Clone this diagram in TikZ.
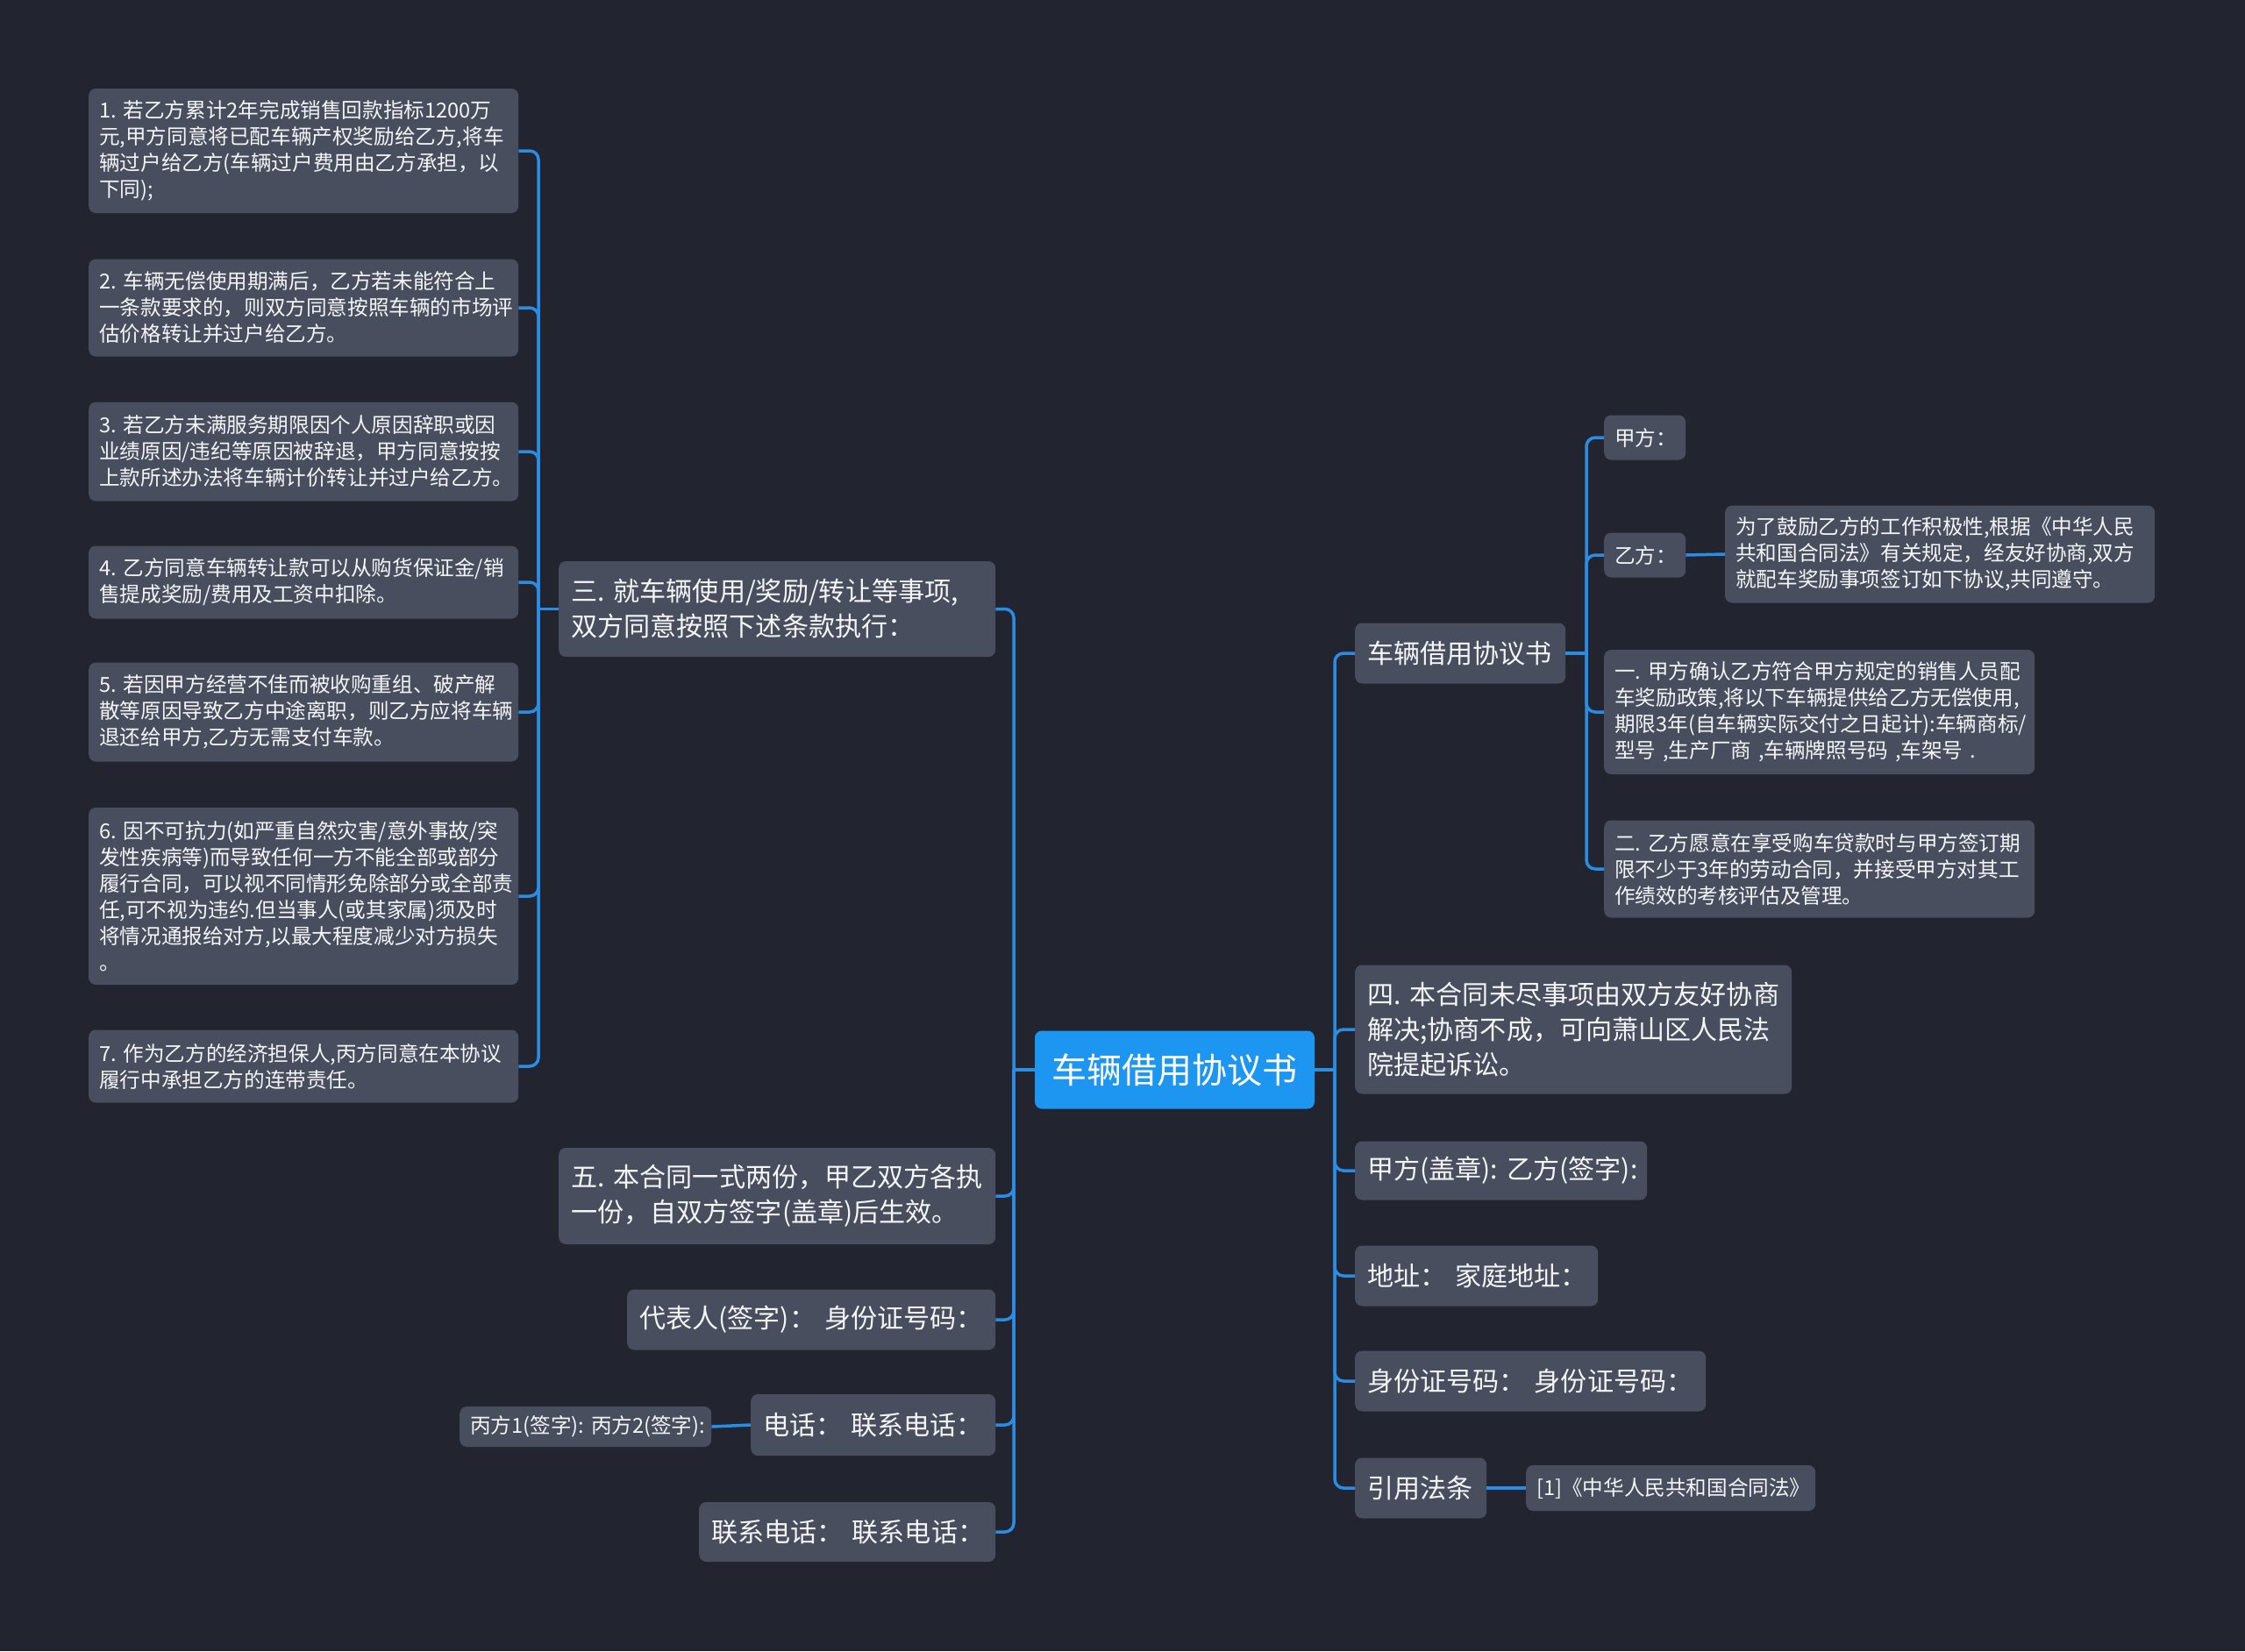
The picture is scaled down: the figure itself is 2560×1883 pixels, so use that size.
\documentclass[tikz,border=0pt]{standalone}
\usepackage{fontspec}
\setmainfont{Noto Sans CJK SC}
\definecolor{bgc}{HTML}{22252F}
\definecolor{boxc}{HTML}{484E5E}
\definecolor{linec}{HTML}{2A8CE2}
\definecolor{centc}{HTML}{1C96F0}
\definecolor{txtc}{HTML}{F4F5F7}
\begin{document}
\begin{tikzpicture}[x=1pt,y=-1pt,
  bx/.style={rectangle, rounded corners=8pt, fill=boxc, text=txtc, inner xsep=12pt, inner ysep=0pt, align=left, anchor=west},
  small/.style={bx, font=\fontsize{23.6}{30}\selectfont},
  big/.style={bx, inner xsep=14pt, font=\fontsize{30.1}{40}\selectfont},
  conn/.style={draw=linec, line width=3.5pt, rounded corners=10pt}]
\fill[bgc] (0,0) rectangle (2560,1883);
\useasboundingbox (0,0) rectangle (2560,1883);

% center
\node[fill=centc, rounded corners=8pt, text=white, font=\fontsize{40}{48}\selectfont, minimum width=319pt, minimum height=89pt, inner sep=0pt] (c) at (1339.5,1220) {车辆借用协议书};

% left column
\node[small, text width=466pt, minimum height=142pt] (l1) at (101,172) {1.~若乙方累计2年完成销售回款指标1200万\\元,甲方同意将已配车辆产权奖励给乙方,将车\\辆过户给乙方(车辆过户费用由乙方承担，以\\下同);};
\node[small, text width=466pt, minimum height=111pt] (l2) at (101,351) {2.~车辆无偿使用期满后，乙方若未能符合上\\一条款要求的，则双方同意按照车辆的市场评\\估价格转让并过户给乙方。};
\node[small, text width=466pt, minimum height=113pt] (l3) at (101,515) {3.~若乙方未满服务期限因个人原因辞职或因\\业绩原因/违纪等原因被辞退，甲方同意按按\\上款所述办法将车辆计价转让并过户给乙方。};
\node[small, text width=466pt, minimum height=83pt] (l4) at (101,664) {4.~乙方同意车辆转让款可以从购货保证金/销\\售提成奖励/费用及工资中扣除。};
\node[small, text width=466pt, minimum height=113pt] (l5) at (101,812) {5.~若因甲方经营不佳而被收购重组、破产解\\散等原因导致乙方中途离职，则乙方应将车辆\\退还给甲方,乙方无需支付车款。};
\node[small, text width=466pt, minimum height=202pt] (l6) at (101,1022) {6.~因不可抗力(如严重自然灾害/意外事故/突\\发性疾病等)而导致任何一方不能全部或部分\\履行合同，可以视不同情形免除部分或全部责\\任,可不视为违约.但当事人(或其家属)须及时\\将情况通报给对方,以最大程度减少对方损失\\。};
\node[small, text width=466pt, minimum height=83pt] (l7) at (101,1216) {7.~作为乙方的经济担保人,丙方同意在本协议\\履行中承担乙方的连带责任。};

% center-left column
\node[big, text width=470pt, minimum height=109pt] (s3) at (637,694.5) {三.~就车辆使用/奖励/转让等事项,\\双方同意按照下述条款执行：};
\node[big, text width=470pt, minimum height=110pt] (s5) at (637,1364) {五.~本合同一式两份，甲乙双方各执\\一份，自双方签字(盖章)后生效。};
\node[big, text width=392pt, minimum height=69pt] (rep) at (715,1505) {代表人(签字)：~身份证号码：};
\node[big, text width=251pt, minimum height=70pt] (tel) at (856,1625) {电话：~联系电话：};
\node[small, text width=263pt, minimum height=46pt] (bing) at (524,1627) {丙方1(签字):~丙方2(签字):};
\node[big, text width=310pt, minimum height=68pt] (lx) at (797,1747) {联系电话：~联系电话：};

% right column
\node[big, text width=212pt, minimum height=69pt] (sub) at (1545,745) {车辆借用协议书};
\node[big, text width=470pt, minimum height=147pt] (s4) at (1545,1174) {四.~本合同未尽事项由双方友好协商\\解决;协商不成，可向萧山区人民法\\院提起诉讼。};
\node[big, text width=305pt, minimum height=67pt] (sig) at (1545,1335) {甲方(盖章):~乙方(签字):};
\node[big, text width=249pt, minimum height=69pt] (addr) at (1545,1455) {地址：~家庭地址：};
\node[big, text width=372pt, minimum height=69pt] (idn) at (1545,1575) {身份证号码：~身份证号码：};
\node[big, text width=122pt, minimum height=69pt] (law) at (1545,1697) {引用法条};
\node[small, text width=306pt, minimum height=52pt] (ref) at (1740,1697) {[1]《中华人民共和国合同法》};

% sub children
\node[small, text width=69pt, minimum height=51pt] (jia) at (1829,499) {甲方：};
\node[small, text width=69pt, minimum height=51pt] (yi) at (1829,633) {乙方：};
\node[small, text width=466pt, minimum height=111pt] (wei) at (1967,632) {为了鼓励乙方的工作积极性,根据《中华人民\\共和国合同法》有关规定，经友好协商,双方\\就配车奖励事项签订如下协议,共同遵守。};
\node[small, text width=467pt, minimum height=142pt] (one) at (1829,812) {一.~甲方确认乙方符合甲方规定的销售人员配\\车奖励政策,将以下车辆提供给乙方无偿使用,\\期限3年(自车辆实际交付之日起计):车辆商标/\\型号~,生产厂商~,车辆牌照号码~,车架号~.};
\node[small, text width=467pt, minimum height=111pt] (two) at (1829,991) {二.~乙方愿意在享受购车贷款时与甲方签订期\\限不少于3年的劳动合同，并接受甲方对其工\\作绩效的考核评估及管理。};

% connectors
\coordinate (tA) at (614,694.5);
\coordinate (tB) at (1156,1220);
\coordinate (tC) at (1522,1220);
\coordinate (tD) at (1809,745);
\draw[conn] (s3.west) -- (tA);
\foreach \n in {l1,l2,l3,l4,l5,l6,l7} \draw[conn] (tA) |- (\n.east);
\draw[conn] (c.west) -- (tB);
\foreach \n in {s3,s5,rep,tel,lx} \draw[conn] (tB) |- (\n.east);
\draw[conn] (c.east) -- (tC);
\foreach \n in {sub,s4,sig,addr,idn,law} \draw[conn] (tC) |- (\n.west);
\draw[conn] (sub.east) -- (tD);
\foreach \n in {jia,yi,one,two} \draw[conn] (tD) |- (\n.west);
\draw[conn] (yi.east) -- (wei.west);
\draw[conn] (tel.west) -- (bing.east);
\draw[conn] (law.east) -- (ref.west);
\end{tikzpicture}
\end{document}
